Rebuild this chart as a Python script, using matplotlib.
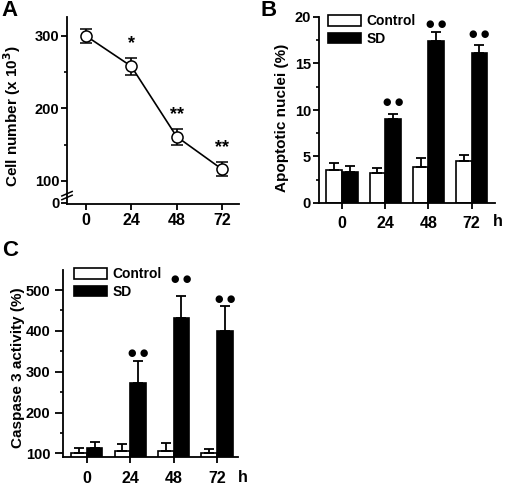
import matplotlib
matplotlib.use("Agg")
import matplotlib.pyplot as plt
import numpy as np

plt.rcParams['font.family'] = ['Liberation Sans', 'DejaVu Sans']
plt.rcParams['font.weight'] = 'bold'
plt.rcParams['axes.labelweight'] = 'bold'

# ---- Data ----
hours = [0, 24, 48, 72]
hour_labels = ["0", "24", "48", "72"]

# Panel A: cell number (x 10^3)
cell_number = [300, 258, 161, 116]
cell_err = [10, 12, 11, 10]
cell_sig = ["", "*", "**", "**"]

# Panel B: apoptotic nuclei (%)
apo_control = [3.5, 3.2, 3.9, 4.5]
apo_control_err = [0.8, 0.6, 0.9, 0.7]
apo_sd = [3.3, 9.05, 17.45, 16.1]
apo_sd_err = [0.7, 0.55, 0.9, 0.85]
apo_sig = [False, True, True, True]
apo_sig_y = [0, 10.9, 19.3, 18.2]

# Panel C: caspase 3 activity (%)
casp_control = [100, 107, 107, 100]
casp_control_err = [14, 15, 19, 12]
casp_sd = [114, 272, 431, 400]
casp_sd_err = [13, 54, 55, 60]
casp_sig = [False, True, True, True]
casp_sig_y = [0, 347, 527, 478]

series_names = ["Control", "SD"]

fig = plt.figure(figsize=(5.05, 4.86), dpi=100)

def style_axes(ax, xpad):
    for s in ['top', 'right']:
        ax.spines[s].set_visible(False)
    for s in ['left', 'bottom']:
        ax.spines[s].set_linewidth(1.3)
    ax.tick_params(axis='both', which='major', direction='out', length=4, width=1.3)
    ax.tick_params(axis='y', which='minor', direction='out', length=2.5, width=1.2)
    ax.tick_params(axis='x', labelsize=11.5, pad=xpad)
    ax.tick_params(axis='y', labelsize=10.5, pad=1.5)
    for lab in ax.get_xticklabels() + ax.get_yticklabels():
        lab.set_fontweight('bold')

# ---------------- Panel A ----------------
axA = fig.add_axes([67/505, 1-204/486, 172/505, 187/486])
axA.errorbar(hours, cell_number, yerr=cell_err, fmt='-o', color='black',
             mfc='white', mec='black', ms=8, mew=1.1, lw=1.2,
             capsize=4.5, elinewidth=1.2, capthick=1.2, zorder=3)
axA.set_ylim(68, 326)
axA.set_xlim(-10, 81)
axA.set_xticks(hours)
axA.set_xticklabels(hour_labels)
axA.set_yticks([70, 100, 200, 300])
axA.set_yticklabels(["0", "100", "200", "300"])
axA.set_yticks([150, 250], minor=True)
style_axes(axA, 2.5)
axA.set_ylabel("Cell number (x 10$^{\\mathbf{3}}$)", fontsize=11, fontweight='bold')
axA.yaxis.set_label_coords(-0.256, 0.468)
for h, v, e, s in zip(hours, cell_number, cell_err, cell_sig):
    if s:
        axA.text(h, v + e + 8, s, ha='center', va='bottom', fontsize=13, fontweight='bold')
# axis break marks
for dy in (0.035, 0.055):
    axA.plot([-0.03, 0.03], [dy - 0.012, dy + 0.012], transform=axA.transAxes,
             color='black', lw=1.1, clip_on=False)
fig.text(10/505, 1-10/486, "A", fontsize=16, fontweight='bold', ha='center', va='center')

# ---------------- Bar panels ----------------
def bar_panel(ax, ctrl, ctrl_err, sd, sd_err, sig, sig_y, w=0.36):
    x = np.arange(len(hours))
    ax.bar(x - w/2, ctrl, w, color='white', edgecolor='black', linewidth=1.2,
           label=series_names[0], zorder=2)
    ax.bar(x + w/2, sd, w, color='black', edgecolor='black', linewidth=1.2,
           label=series_names[1], zorder=2)
    ax.errorbar(x - w/2, ctrl, yerr=[np.zeros(len(ctrl)), ctrl_err], fmt='none',
                ecolor='black', elinewidth=1.3, capsize=3.5, capthick=1.3, zorder=3)
    ax.errorbar(x + w/2, sd, yerr=[np.zeros(len(sd)), sd_err], fmt='none',
                ecolor='black', elinewidth=1.3, capsize=3.5, capthick=1.3, zorder=3)
    for xi, s, yy in zip(x, sig, sig_y):
        if s:
            ax.text(xi + w/2, yy, "\u25cf \u25cf", ha='center', va='center',
                    fontsize=7, family=['DejaVu Sans'])
    ax.set_xticks(x)
    ax.set_xticklabels(hour_labels)
    return x

legend_kw = dict(loc='upper left', frameon=False, borderpad=0, borderaxespad=0,
                 handlelength=2.4, handleheight=0.8, handletextpad=0.35,
                 labelspacing=0.25, prop={'weight': 'bold', 'size': 10})

# Panel B
axB = fig.add_axes([318.7/505, 1-203/486, 176.3/505, 186/486])
bar_panel(axB, apo_control, apo_control_err, apo_sd, apo_sd_err, apo_sig, apo_sig_y)
axB.set_ylim(0, 20)
axB.set_xlim(-0.54, 3.54)
axB.set_yticks([0, 5, 10, 15, 20])
axB.set_yticks([2.5, 7.5, 12.5, 17.5], minor=True)
style_axes(axB, 5.5)
axB.set_ylabel("Apoptotic nuclei (%)", fontsize=11, fontweight='bold')
axB.yaxis.set_label_coords(-0.168, 0.457)
axB.text(1.017, -0.102, "h", transform=axB.transAxes, ha='center', va='center',
         fontsize=11.5, fontweight='bold')
axB.legend(bbox_to_anchor=(0.053, 1.015), **legend_kw)
fig.text(269/505, 1-10/486, "B", fontsize=16, fontweight='bold', ha='center', va='center')

# Panel C
axC = fig.add_axes([63/505, 1-456.7/486, 175/505, 186.7/486])
bar_panel(axC, casp_control, casp_control_err, casp_sd, casp_sd_err, casp_sig, casp_sig_y)
axC.set_ylim(92, 549)
axC.set_xlim(-0.545, 3.48)
axC.set_yticks([100, 200, 300, 400, 500])
axC.set_yticks([150, 250, 350, 450], minor=True)
style_axes(axC, 6)
axC.tick_params(axis='y', which='major', length=6, pad=3)
axC.set_ylabel("Caspase 3 activity (%)", fontsize=11, fontweight='bold')
axC.yaxis.set_label_coords(-0.217, 0.478)
axC.text(1.027, -0.109, "h", transform=axC.transAxes, ha='center', va='center',
         fontsize=11.5, fontweight='bold')
axC.legend(bbox_to_anchor=(0.063, 1.015), **legend_kw)
fig.text(10/505, 1-250/486, "C", fontsize=16, fontweight='bold', ha='center', va='center')

fig.savefig("out.png", dpi=100)
